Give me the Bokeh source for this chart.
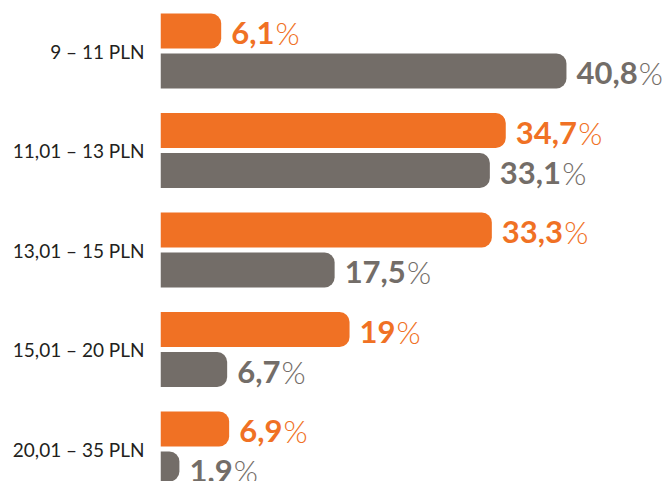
from bokeh.plotting import figure
from bokeh.models import Range1d, FixedTicker, ColumnDataSource
from bokeh.core.properties import value
from bokeh.embed import file_html
from bokeh.resources import INLINE

categories = ["9 – 11 PLN", "11,01 – 13 PLN", "13,01 – 15 PLN", "15,01 – 20 PLN", "20,01 – 35 PLN"]
orange_vals = [6.1, 34.7, 33.3, 19, 6.9]
gray_vals = [40.8, 33.1, 17.5, 6.7, 1.9]

ORANGE = "#F07124"
GRAY = "#736D68"
LABEL_COLOR = "#231F20"

W, H = 664, 481
FRAME_LEFT = 160
PX_PER_UNIT = 9.95
GROUP_PX = 99.5
FIRST_CENTER_PX = 50.5
BAR_PX = 35
OFFSET_PX = 20
FONT_PX = 31
GAP_PX = 10

x_end = (W - FRAME_LEFT) / PX_PER_UNIT
y_top = -FIRST_CENTER_PX / GROUP_PX
y_bottom = (H - FIRST_CENTER_PX) / GROUP_PX

p = figure(width=W, height=H, output_backend="svg", toolbar_location=None,
           x_range=Range1d(0, x_end), y_range=Range1d(y_bottom, y_top),
           min_border_left=FRAME_LEFT, min_border_right=0, min_border_top=0, min_border_bottom=0,
           outline_line_color=None)
p.xaxis.visible = False
p.xgrid.visible = False
p.ygrid.visible = False
p.background_fill_color = "white"
p.border_fill_color = "white"

idx = list(range(len(categories)))
ax = p.yaxis[0]
ax.ticker = FixedTicker(ticks=idx)
ax.major_label_overrides = {i: c for i, c in zip(idx, categories)}
ax.axis_line_color = None
ax.major_tick_line_color = None
ax.minor_tick_line_color = None
ax.major_tick_in = 0
ax.major_tick_out = 0
ax.major_label_standoff = 16
ax.major_label_text_font = "Lato"
ax.major_label_text_font_size = "19px"
ax.major_label_text_color = LABEL_COLOR

off = OFFSET_PX / GROUP_PX
bh = BAR_PX / GROUP_PX

# approximate Lato Bold advance widths (em)
ADV = {",": 0.24}
def text_w(s):
    return sum(ADV.get(ch, 0.58) for ch in s) * FONT_PX

def fmt(v):
    return f"{v:g}".replace(".", ",")

for vals, color, sign in [(orange_vals, ORANGE, -1), (gray_vals, GRAY, 1)]:
    ys = [i + sign * off for i in idx]
    labels = [fmt(v) for v in vals]
    src = ColumnDataSource(dict(y=ys, v=vals, lab=labels,
                                pct=["%"] * len(vals),
                                pct_off=[GAP_PX + text_w(l) + 1 for l in labels]))
    p.hbar(y="y", left=0, right="v", height=bh, source=src, fill_color=color,
           line_color=None, border_radius=(0, 10, 10, 0))
    p.text(x="v", y="y", text="lab", source=src, x_offset=GAP_PX, y_offset=2,
           text_font=value("Lato"), text_font_style="bold", text_font_size=f"{FONT_PX}px",
           text_color=color, text_align="left", text_baseline="middle")
    p.text(x="v", y="y", text="pct", source=src, x_offset="pct_off", y_offset=2,
           text_font=value("Lato Light"), text_font_size=f"{FONT_PX}px",
           text_color=color, text_align="left", text_baseline="middle")

open("out.html", "w").write(file_html(p, INLINE))
